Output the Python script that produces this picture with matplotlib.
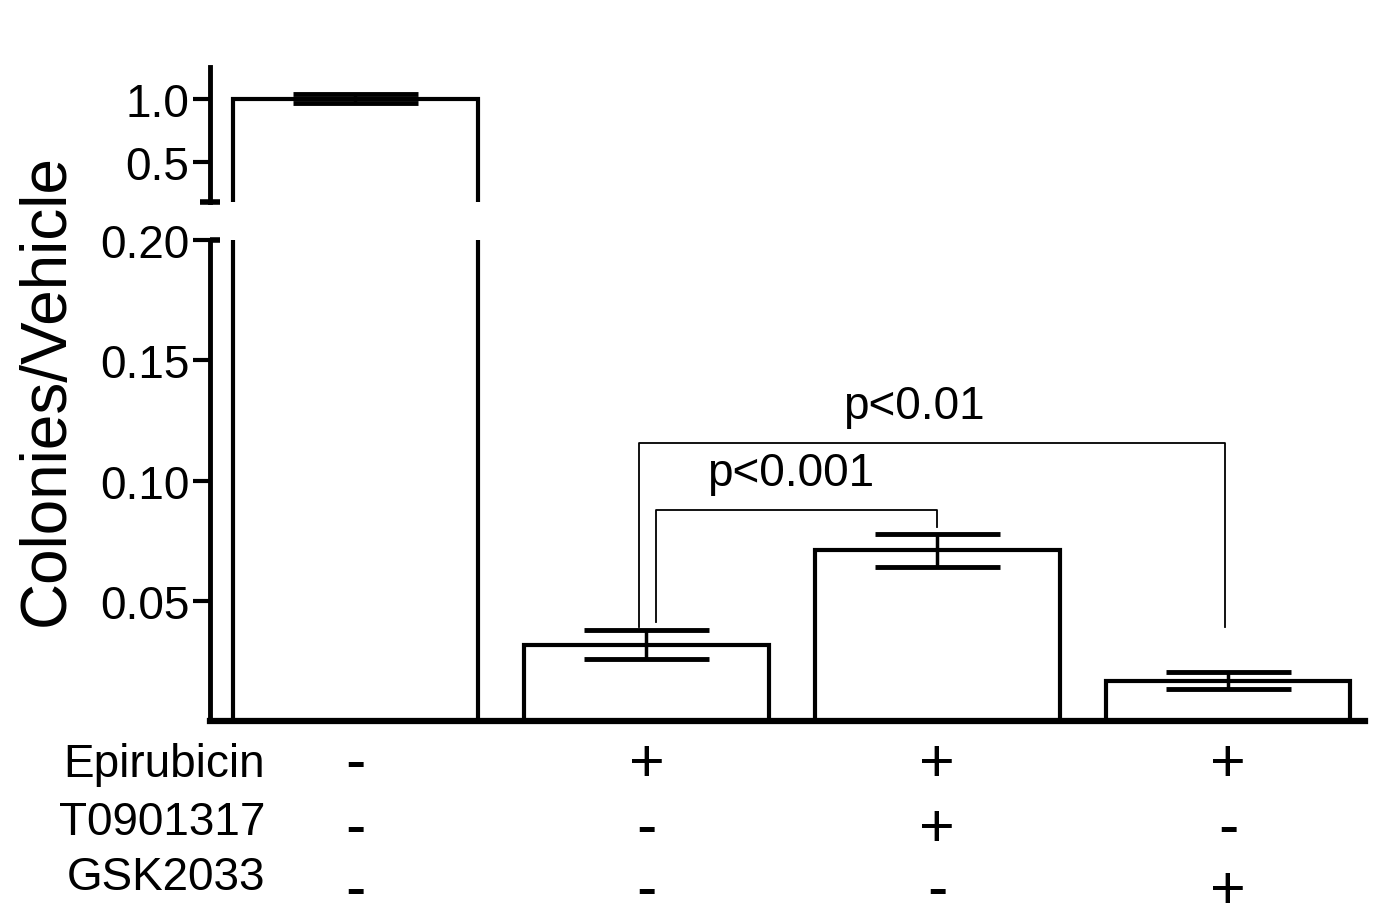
import matplotlib.pyplot as plt
from matplotlib.transforms import blended_transform_factory

plt.rcParams['font.family'] = ['Liberation Sans', 'DejaVu Sans']

# data
groups = [0, 1, 2, 3]
means = [1.0, 0.0317, 0.0710, 0.0168]
errs = [0.035, 0.0060, 0.0068, 0.0035]
row_labels = ["Epirubicin", "T0901317", "GSK2033"]
signs = [["-", "+", "+", "+"],
         ["-", "-", "+", "-"],
         ["-", "-", "-", "+"]]
# significance brackets: (x left, x right, y left leg, y right leg, y top, text, text x)
brackets = [(0.975, 2.99, 0.039, 0.039, 0.1157, "p<0.01", 1.92),
            (1.033, 2.0, 0.0412, 0.0808, 0.0879, "p<0.001", 1.495)]

fig = plt.figure(figsize=(14, 9.2), dpi=100)
ax_top = fig.add_axes([0.15, 0.7793, 0.825, 0.1467])
ax_bot = fig.add_axes([0.15, 0.2152, 0.825, 0.5228])

for ax in (ax_top, ax_bot):
    ax.bar(groups, means, width=0.84, color='white', edgecolor='black', linewidth=3)
    ax.errorbar(groups, means, yerr=errs, fmt='none', ecolor='black',
                elinewidth=2.5, capsize=45, capthick=3.5)
    ax.set_xlim(-0.5, 3.47)
    ax.set_xticks([])
    ax.spines['top'].set_visible(False)
    ax.spines['right'].set_visible(False)
    ax.spines['left'].set_linewidth(3.5)
    ax.tick_params(axis='y', length=12, width=3, pad=3, labelsize=33)

ax_top.spines['bottom'].set_visible(False)
ax_top.set_ylim(0.18, 1.25)
ax_top.set_yticks([0.5, 1.0])
ax_top.set_yticklabels(["0.5", "1.0"])

ax_bot.spines['bottom'].set_linewidth(4.5)
ax_bot.set_ylim(0, 0.2)
ax_bot.set_yticks([0.05, 0.10, 0.15, 0.20])
ax_bot.set_yticklabels(["0.05", "0.10", "0.15", "0.20"])

# break marks on the axis
ax_top.plot([-0.009, 0.009], [0, 0], transform=ax_top.transAxes,
            color='black', lw=4, clip_on=False, solid_capstyle='butt')
ax_bot.plot([0, 0.009], [1, 1], transform=ax_bot.transAxes,
            color='black', lw=4, clip_on=False, solid_capstyle='butt')

for x1, x2, y1, y2, yh, txt, tx in brackets:
    ax_bot.plot([x1, x1, x2, x2], [y1, yh, yh, y2], color='black', lw=1.3)
    ax_bot.text(tx, yh + 0.006, txt, ha='center', va='bottom', fontsize=33)

fig.text(47 / 1400, 1 - 390 / 920, "Colonies/Vehicle", rotation=90,
         ha='center', va='center', fontsize=46)

# treatment table under the bars
label_rows = [765, 823, 878]
sign_rows = [766, 831, 893]
trans = blended_transform_factory(ax_bot.transData, fig.transFigure)
for i, lab in enumerate(row_labels):
    fig.text(265 / 1400, 1 - label_rows[i] / 920, lab, ha='right', va='center', fontsize=33)
    for g in groups:
        ax_bot.text(g, 1 - sign_rows[i] / 920, signs[i][g], transform=trans,
                    ha='center', va='center', fontsize=44)

fig.savefig("out.png", dpi=100)
